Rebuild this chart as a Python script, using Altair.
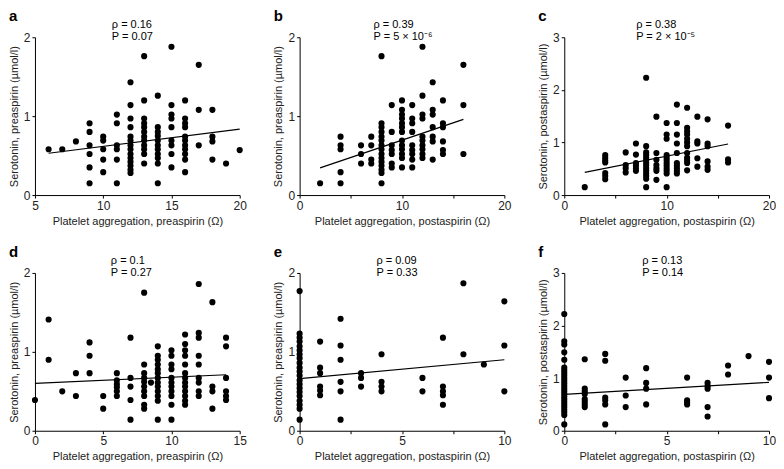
import altair as alt
import pandas as pd

FONT = "Liberation Sans"

# ---- data : x value -> list of y values ----
a_cols = {6: [0.58], 7: [0.58], 8: [0.68],
          9: [0.91, 0.80, 0.63, 0.52, 0.35, 0.15],
          10: [0.74, 0.69, 0.58, 0.45, 0.29],
          11: [1.02, 0.91, 0.63, 0.58, 0.45, 0.15],
          12: [1.43, 1.14, 0.97, 0.86, 0.74, 0.69, 0.63, 0.58, 0.52, 0.47, 0.42, 0.37, 0.32, 0.28],
          13: [1.76, 1.20, 0.97, 0.91, 0.86, 0.80, 0.74, 0.69, 0.63, 0.58, 0.52, 0.40],
          14: [1.26, 0.86, 0.80, 0.75, 0.69, 0.63, 0.58, 0.52, 0.47, 0.40, 0.15],
          15: [1.88, 1.14, 1.02, 0.97, 0.86, 0.69, 0.63, 0.52, 0.35],
          16: [1.20, 0.97, 0.91, 0.86, 0.74, 0.69, 0.63, 0.58, 0.52, 0.45, 0.29],
          17: [1.65, 1.08, 0.63], 18: [1.08, 0.74, 0.68, 0.45], 19: [0.40], 20: [0.57]}

b_cols = {2: [0.15], 4: [0.74, 0.63, 0.58, 0.29, 0.15], 6: [0.63, 0.52, 0.40],
          7: [0.74, 0.63, 0.45, 0.40],
          8: [1.76, 0.91, 0.86, 0.80, 0.74, 0.69, 0.63, 0.58, 0.52, 0.47, 0.42, 0.37, 0.32, 0.28, 0.15],
          9: [1.14, 0.80, 0.63, 0.57, 0.52, 0.40, 0.35],
          10: [1.20, 1.08, 1.02, 0.97, 0.91, 0.86, 0.80, 0.69, 0.63, 0.58, 0.52, 0.47, 0.35],
          11: [1.14, 0.97, 0.91, 0.80, 0.63, 0.57, 0.52, 0.45, 0.35],
          12: [1.88, 1.26, 1.02, 0.97, 0.74, 0.69, 0.63, 0.58, 0.52, 0.47],
          13: [1.43, 1.08, 1.02, 0.86, 0.74, 0.68, 0.45],
          14: [1.20, 0.91, 0.86, 0.68, 0.57, 0.52], 16: [1.65, 1.14, 0.52]}

c_cols = {2: [0.15], 4: [0.76, 0.71, 0.66, 0.62, 0.42, 0.36, 0.30],
          6: [0.81, 0.57, 0.51, 0.43], 7: [0.98, 0.77, 0.61, 0.56, 0.51, 0.46],
          8: [2.23, 0.93, 0.81, 0.76, 0.71, 0.66, 0.61, 0.56, 0.51, 0.46, 0.41, 0.36, 0.31, 0.15],
          9: [1.49, 0.80, 0.67, 0.57, 0.51, 0.46, 0.29],
          10: [1.37, 1.15, 1.07, 0.76, 0.71, 0.66, 0.61, 0.56, 0.51, 0.46, 0.41, 0.15],
          11: [1.72, 1.37, 1.15, 0.98, 0.80, 0.61, 0.56, 0.51, 0.46, 0.41],
          12: [1.66, 1.28, 1.21, 1.15, 1.07, 1.00, 0.93, 0.80, 0.71, 0.66, 0.61, 0.47],
          13: [1.49, 1.02, 0.98, 0.70, 0.54], 14: [1.44, 0.98, 0.93, 0.64, 0.54, 0.48],
          16: [1.32, 0.68, 0.62]}

d_cols = {0: [0.39], 1: [1.41, 0.90], 2: [0.50], 3: [0.73, 0.44], 4: [1.12, 0.95, 0.73],
          5: [0.44, 0.28], 6: [0.73, 0.64, 0.59, 0.55, 0.50, 0.44],
          7: [1.18, 0.67, 0.56, 0.39, 0.14],
          8: [1.75, 0.84, 0.73, 0.67, 0.62, 0.56, 0.50, 0.44, 0.33, 0.28], 8.5: [0.61],
          9: [1.07, 0.95, 0.90, 0.84, 0.78, 0.73, 0.67, 0.61, 0.56, 0.50, 0.44, 0.38, 0.14],
          10: [1.02, 0.95, 0.84, 0.78, 0.67, 0.61, 0.56, 0.50, 0.44, 0.33, 0.14],
          11: [1.22, 1.10, 1.02, 0.95, 0.84, 0.73, 0.67, 0.61, 0.56, 0.50, 0.44, 0.38, 0.33],
          12: [1.86, 1.24, 1.18, 0.95, 0.84, 0.67, 0.61, 0.50, 0.44],
          13: [1.63, 0.56, 0.50, 0.28], 14: [1.18, 1.07, 0.67, 0.50, 0.44, 0.39]}

e_cols = {0: [1.77, 1.23, 1.18, 1.13, 1.07, 1.02, 0.97, 0.92, 0.86, 0.80, 0.75, 0.70, 0.64,
              0.59, 0.54, 0.49, 0.44, 0.38, 0.33, 0.28, 0.14],
          1: [1.13, 0.80, 0.73, 0.56, 0.51, 0.45], 2: [1.42, 1.08, 0.90, 0.62, 0.50, 0.14],
          3: [0.73, 0.67, 0.56], 4: [0.97, 0.62, 0.56, 0.50], 6: [0.67, 0.50],
          7: [1.18, 0.56, 0.50, 0.45, 0.33], 8: [1.87, 0.97], 9: [0.84], 10: [1.64, 1.08, 0.50]}

f_cols = {0: [2.22, 1.70, 1.64, 1.49, 1.35, 1.20, 1.15, 1.10, 1.05, 1.00, 0.95, 0.90, 0.85,
              0.80, 0.75, 0.70, 0.65, 0.60, 0.55, 0.50, 0.45, 0.40, 0.35, 0.30, 0.12],
          1: [1.36, 0.80, 0.75, 0.70, 0.60, 0.55, 0.50, 0.45],
          2: [1.46, 1.33, 0.63, 0.58, 0.50, 0.12], 3: [1.01, 0.67, 0.45],
          4: [1.19, 0.91, 0.80, 0.50], 6: [1.01, 0.58, 0.54, 0.50],
          7: [0.91, 0.85, 0.80, 0.45, 0.27], 8: [1.24, 1.07], 9: [1.42], 10: [1.31, 1.01, 0.62]}

# regression line end points
fit_x = {"a": [6, 20], "b": [2, 16], "c": [2, 16], "d": [0, 14], "e": [0, 10], "f": [0, 10]}
fit_y = {"a": [0.53, 0.835], "b": [0.345, 0.96], "c": [0.43, 0.97],
         "d": [0.60, 0.71], "e": [0.66, 0.90], "f": [0.69, 0.92]}

rho_text = {"a": "ρ = 0.16", "b": "ρ = 0.39", "c": "ρ = 0.38",
            "d": "ρ = 0.1", "e": "ρ = 0.09", "f": "ρ = 0.13"}
p_text = {"a": "P = 0.07", "b": "P = 5 × 10⁻⁶", "c": "P = 2 × 10⁻⁵",
          "d": "P = 0.27", "e": "P = 0.33", "f": "P = 0.14"}

x_titles = {"a": "Platelet aggregation, preaspirin (Ω)",
            "b": "Platelet aggregation, postaspirin (Ω)",
            "c": "Platelet aggregation, postaspirin (Ω)",
            "d": "Platelet aggregation, preaspirin (Ω)",
            "e": "Platelet aggregation, postaspirin (Ω)",
            "f": "Platelet aggregation, postaspirin (Ω)"}
y_titles = {"a": "Serotonin, preaspirin (µmol/l)", "b": "Serotonin, preaspirin (µmol/l)",
            "c": "Serotonin, postaspirin (µmol/l)", "d": "Serotonin, preaspirin (µmol/l)",
            "e": "Serotonin, preaspirin (µmol/l)", "f": "Serotonin, postaspirin (µmol/l)"}

x_domains = {"a": [5, 20], "b": [0, 20], "c": [0, 20], "d": [0, 15], "e": [0, 10], "f": [0, 10]}
x_ticks = {"a": [5, 7.5, 10, 12.5, 15, 17.5, 20], "b": [0, 5, 10, 15, 20],
           "c": [0, 5, 10, 15, 20], "d": [0, 2.5, 5, 7.5, 10, 12.5, 15],
           "e": [0, 2.5, 5, 7.5, 10], "f": [0, 2.5, 5, 7.5, 10]}
x_label_step = {"a": 5, "b": 10, "c": 10, "d": 5, "e": 5, "f": 5}
y_domains = {"a": [0, 2], "b": [0, 2], "c": [0, 3], "d": [0, 2], "e": [0, 2], "f": [0, 3]}
y_ticks = {"a": [0, 0.5, 1, 1.5, 2], "b": [0, 0.5, 1, 1.5, 2], "c": [0, 1, 2, 3],
           "d": [0, 0.5, 1, 1.5, 2], "e": [0, 0.5, 1, 1.5, 2], "f": [0, 1, 2, 3]}

# horizontal start of the ρ / P annotation block inside each panel (px from plot left)
note_x = {"a": 77, "b": 74, "c": 72, "d": 76, "e": 77, "f": 78}

cols_all = {"a": a_cols, "b": b_cols, "c": c_cols, "d": d_cols, "e": e_cols, "f": f_cols}

W, H = 205, 158


def expand(cols):
    xs, ys = [], []
    for x, vals in cols.items():
        for v in vals:
            xs.append(x)
            ys.append(v)
    return pd.DataFrame({"x": xs, "y": ys})


def text_mark(txt, x, y, size, bold=False, align="left"):
    return alt.Chart(pd.DataFrame({"t": [txt]})).mark_text(
        font=FONT, fontSize=size, fontWeight="bold" if bold else "normal",
        align=align, baseline="middle", color="black"
    ).encode(text="t:N", x=alt.value(x), y=alt.value(y))


def panel(k):
    df = expand(cols_all[k])
    xenc = alt.X("x:Q", scale=alt.Scale(domain=x_domains[k], nice=False, zero=False),
                 axis=alt.Axis(values=x_ticks[k], title=x_titles[k],
                               labelExpr=f"datum.value % {x_label_step[k]} == 0 ? format(datum.value, 'd') : ''"))
    yenc = alt.Y("y:Q", scale=alt.Scale(domain=y_domains[k], nice=False, zero=False),
                 axis=alt.Axis(values=y_ticks[k], title=y_titles[k],
                               labelExpr="datum.value % 1 == 0 ? format(datum.value, 'd') : ''"))
    pts = alt.Chart(df).mark_circle(size=38, color="black", opacity=1).encode(x=xenc, y=yenc)
    line_df = pd.DataFrame({"x": fit_x[k], "y": fit_y[k]})
    line = alt.Chart(line_df).mark_line(color="black", strokeWidth=1.2).encode(x="x:Q", y="y:Q")
    letter = text_mark(k, -26, -21, 15, bold=True)
    rho = text_mark(rho_text[k], note_x[k], -12, 11)
    pv = text_mark(p_text[k], note_x[k], 0, 11)
    return alt.layer(pts, line, letter, rho, pv).properties(width=W, height=H)


row1 = alt.hconcat(panel("a"), panel("b"), panel("c"), spacing=26)
row2 = alt.hconcat(panel("d"), panel("e"), panel("f"), spacing=26)

chart = alt.vconcat(row1, row2, spacing=19).properties(
    padding={"left": 0, "top": 1, "right": 0, "bottom": 0}
).configure_view(stroke=None).configure_axis(
    grid=False, domainColor="black", domainWidth=1, tickColor="black", tickSize=3,
    labelFont=FONT, titleFont=FONT, labelFontSize=12, titleFontSize=11,
    titleFontWeight="normal", labelColor="#222", titleColor="#222",
    labelFlush=False, labelOverlap=False, labelPadding=2, titlePadding=4,
)

chart.save("out.html", embed_options={"renderer": "svg", "actions": False})
